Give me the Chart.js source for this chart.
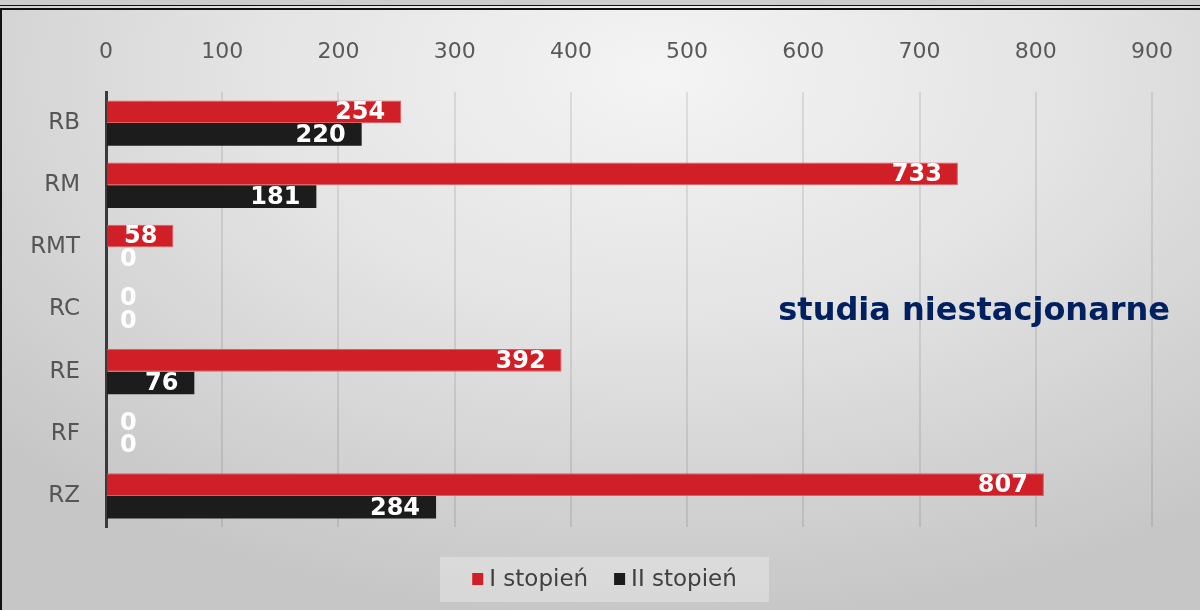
<!DOCTYPE html>
<html>
<head>
<meta charset="utf-8">
<script src="https://cdn.jsdelivr.net/npm/chart.js@4.4.1/dist/chart.umd.min.js"></script>
<style>
  html, body { margin: 0; padding: 0; }
  #wrap {
    position: relative; width: 1200px; height: 610px; overflow: hidden;
    background: radial-gradient(ellipse 75% 90% at 55% 12%, #f4f4f4 0%, #e4e4e4 45%, #c6c6c6 100%);
  }
  #band { position: absolute; left: 0; top: 0; width: 1200px; height: 5px; background: #cdcdcd; }
  #line1 { position: absolute; left: 0; top: 5px; width: 1200px; height: 1px; background: #111; }
  #line2 { position: absolute; left: 0; top: 8px; width: 1200px; height: 2px; background: #111; }
  #lineL { position: absolute; left: 0; top: 8px; width: 2px; height: 602px; background: #111; }
  canvas { position: absolute; left: 0; top: 0; }
</style>
</head>
<body>
<div id="wrap">
  <div id="band"></div><div id="line1"></div><div id="line2"></div><div id="lineL"></div>
  <canvas id="chart" width="1200" height="610"></canvas>
</div>
<script>
const categories   = ['RB', 'RM', 'RMT', 'RC', 'RE', 'RF', 'RZ'];
const firstDegree  = [254, 733, 58, 0, 392, 0, 807];
const secondDegree = [220, 181, 0, 0, 76, 0, 284];
const seriesNames  = ['I stopień', 'II stopień'];
const xMax = 900, xStep = 100;
const subtitle = 'studia niestacjonarne';

const RED = '#d01f26', BLACK = '#1c1c1c';
const FONT = '"DejaVu Sans", Verdana, sans-serif';

// white bold value labels, at the end inside each bar
const barLabels = {
  id: 'barLabels',
  afterDatasetsDraw(chart) {
    const ctx = chart.ctx;
    ctx.save();
    ctx.font = 'bold 24px ' + FONT;
    ctx.fillStyle = '#ffffff';
    ctx.textBaseline = 'middle';
    ctx.textAlign = 'right';
    chart.data.datasets.forEach((ds, i) => {
      chart.getDatasetMeta(i).data.forEach((bar, j) => {
        const txt = String(ds.data[j]);
        const w = ctx.measureText(txt).width;
        const right = Math.max(bar.x - 16, bar.base + 14 + w);
        ctx.fillText(txt, right, bar.y + 1);
      });
    });
    ctx.restore();
  }
};

// subtitle text and legend box at the bottom
const extras = {
  id: 'extras',
  afterDraw(chart) {
    const ctx = chart.ctx;
    ctx.save();
    ctx.font = 'bold 32px ' + FONT;
    ctx.fillStyle = '#002060';
    ctx.textBaseline = 'middle';
    ctx.textAlign = 'right';
    ctx.fillText(subtitle, 1170, 312);

    ctx.fillStyle = 'rgba(255,255,255,0.3)';
    ctx.fillRect(440, 557, 329, 45);

    ctx.font = '23px ' + FONT;
    ctx.textAlign = 'left';
    const sq = 11, gap = 6, itemGap = 26;
    const widths = seriesNames.map(n => ctx.measureText(n).width);
    const total = widths.reduce((a, w) => a + sq + gap + w, 0) + itemGap;
    let x = 604.5 - total / 2;
    chart.data.datasets.forEach((ds, i) => {
      ctx.fillStyle = ds.backgroundColor;
      ctx.fillRect(x, 573, sq, sq + 1);
      ctx.fillStyle = '#404040';
      ctx.fillText(seriesNames[i], x + sq + gap, 580);
      x += sq + gap + widths[i] + itemGap;
    });
    ctx.restore();
  }
};

new Chart(document.getElementById('chart'), {
  type: 'bar',
  data: {
    labels: categories,
    datasets: [
      { label: seriesNames[0], data: firstDegree, backgroundColor: RED, borderColor: '#e25a5e', borderWidth: 1, borderSkipped: 'start' },
      { label: seriesNames[1], data: secondDegree, backgroundColor: BLACK }
    ]
  },
  options: {
    indexAxis: 'y',
    responsive: false,
    animation: false,
    maintainAspectRatio: false,
    datasets: { bar: { categoryPercentage: 0.73, barPercentage: 1.0 } },
    layout: { padding: { top: 0, left: 0, right: 44, bottom: 83 } },
    plugins: { legend: { display: false }, tooltip: { enabled: false } },
    scales: {
      x: {
        position: 'top', min: 0, max: xMax,
        afterFit: s => { s.height = 92; },
        ticks: { stepSize: xStep, padding: 27, color: '#595959', font: { family: FONT, size: 22 } },
        grid: { color: 'rgba(0,0,0,0.09)', lineWidth: 2, drawTicks: false },
        border: { display: false }
      },
      y: {
        afterFit: s => { s.width = 106; },
        ticks: { padding: 26, color: '#555555', font: { family: FONT, size: 23 } },
        grid: { display: false, drawTicks: false },
        border: { display: true, color: '#3a3a3a', width: 3 }
      }
    }
  },
  plugins: [barLabels, extras]
});
</script>
</body>
</html>
